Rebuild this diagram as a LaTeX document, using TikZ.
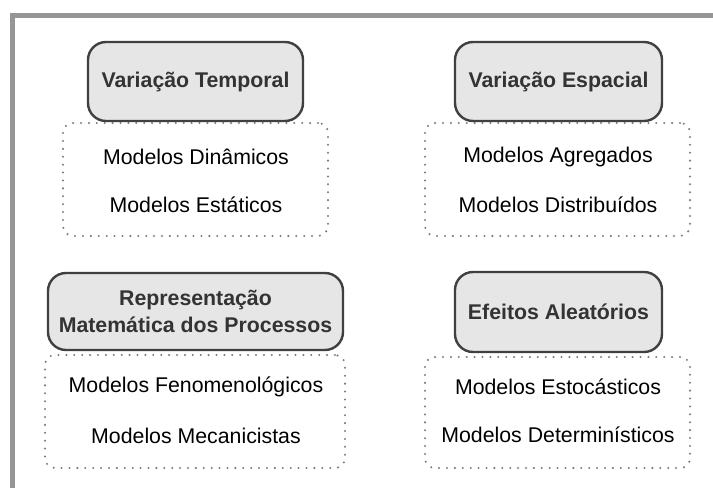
\documentclass[tikz,border=0pt]{standalone}
\usepackage{fontspec}
\setmainfont{Liberation Sans}
\usetikzlibrary{positioning}
\definecolor{moldura}{RGB}{150,150,150}
\definecolor{borda}{RGB}{64,64,64}
\definecolor{fundo}{RGB}{230,230,230}
\definecolor{textoEscuro}{RGB}{51,51,51}
\definecolor{pontos}{RGB}{125,125,125}

\begin{document}
\begin{tikzpicture}[x=1pt,y=-1pt,
	titulo/.style={draw=borda, line width=2.4pt, fill=fundo, rounded corners=18pt, text=textoEscuro,
		font=\fontsize{21.3}{27}\selectfont\bfseries, align=center, inner sep=0pt},
	grupo/.style={draw=pontos, line width=2.3pt, dash pattern=on 0pt off 7.9pt, line cap=round,
		rounded corners=10pt, inner sep=0pt},
	modelo/.style={font=\fontsize{21.3}{25}\selectfont, inner sep=0pt}]

		\useasboundingbox (0,0) rectangle (713,488);

		% Moldura
		\coordinate (mdA) at (713,15);
		\coordinate (mdB) at (12,15);
		\coordinate (mdC) at (12,488);
		\draw[moldura, line width=5pt] (mdA) -- (mdB) -- (mdC);

		% Variacao temporal
		\node[grupo, minimum width=265pt, minimum height=113pt] (g1) at (195.5,179.5) {};
		\node[titulo, minimum width=215pt, minimum height=79pt] (t1) at (195.5,81.5) {Variação Temporal};
		\node[modelo] (m1a) at (196,157) {Modelos Dinâmicos};
		\node[modelo] (m1b) at (196,205) {Modelos Estáticos};

		% Variacao espacial
		\node[grupo, minimum width=265pt, minimum height=113pt] (g2) at (557.5,179.5) {};
		\node[titulo, minimum width=207pt, minimum height=79pt] (t2) at (558.5,81.5) {Variação Espacial};
		\node[modelo] (m2a) at (558,157) {Modelos Agregados};
		\node[modelo] (m2b) at (558,205) {Modelos Distribuídos};

		% Representacao matematica
		\node[grupo, minimum width=300pt, minimum height=113pt] (g3) at (195,411.5) {};
		\node[titulo, minimum width=295pt, minimum height=77pt] (t3) at (195.5,311.5) {Representação\\Matemática dos Processos};
		\node[modelo] (m3a) at (196,387) {Modelos Fenomenológicos};
		\node[modelo] (m3b) at (196,436) {Modelos Mecanicistas};

		% Efeitos aleatorios
		\node[grupo, minimum width=265pt, minimum height=111pt] (g4) at (557.5,412.5) {};
		\node[titulo, minimum width=207pt, minimum height=80pt] (t4) at (558.5,312) {Efeitos Aleatórios};
		\node[modelo] (m4a) at (558,387) {Modelos Estocásticos};
		\node[modelo] (m4b) at (558,435) {Modelos Determinísticos};

	\end{tikzpicture}
\end{document}
